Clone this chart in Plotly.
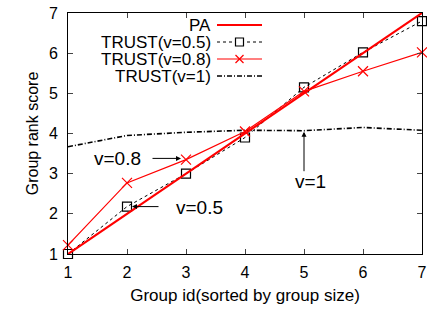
import plotly.graph_objects as go

group_ids = [1, 2, 3, 4, 5, 6, 7]
pa = [1.0, 2.0, 3.0, 4.0, 5.0, 6.0, 7.0]
trust_05 = [1.0, 2.18, 3.0, 3.9, 5.15, 6.02, 6.8]
trust_08 = [1.22, 2.77, 3.35, 4.05, 5.05, 5.55, 6.02]
trust_1 = [3.67, 3.95, 4.03, 4.08, 4.07, 4.15, 4.08]
y_ticks = [1, 2, 3, 4, 5, 6, 7]
legend_names = ["PA", "TRUST(v=0.5)", "TRUST(v=0.8)", "TRUST(v=1)"]

RED = "#ff0000"
FONT = "Liberation Sans"
W, H = 427, 314
L, R, T, B = 68, 5, 13, 60
PX0, PX1, PY0, PY1 = L, W - R, T, H - B


def px(xp):
    return (xp - PX0) / (PX1 - PX0)


def py(yp):
    return (PY1 - yp) / (PY1 - PY0)


V1_DASH = "5px,2px,1px,2px"

fig = go.Figure()
fig.add_trace(go.Scatter(x=group_ids, y=trust_1, mode="lines",
                         line=dict(color="black", width=1.6, dash=V1_DASH), name=legend_names[3]))
fig.add_trace(go.Scatter(x=group_ids, y=trust_05, mode="lines+markers",
                         line=dict(color="black", width=1, dash="dot"),
                         marker=dict(symbol="square-open", size=9, color="black", line=dict(width=1.2)),
                         name=legend_names[1], cliponaxis=False))
fig.add_trace(go.Scatter(x=group_ids, y=trust_08, mode="lines+markers",
                         line=dict(color=RED, width=1.2),
                         marker=dict(symbol="x-thin-open", size=10, color=RED, line=dict(width=1.2, color=RED)),
                         name=legend_names[2], cliponaxis=False))
fig.add_trace(go.Scatter(x=group_ids, y=pa, mode="lines",
                         line=dict(color=RED, width=2.2), name=legend_names[0], cliponaxis=False))

# manual gnuplot-style legend (text on left, sample on right)
leg_y = [25, 42, 59, 76]
annotations = []
shapes = []
for i, name in enumerate(legend_names):
    annotations.append(dict(x=px(213), y=py(leg_y[i]), xref="paper", yref="paper", text=name,
                            showarrow=False, xanchor="right", yanchor="middle",
                            font=dict(family=FONT, size=17, color="black")))
styles = [dict(color=RED, width=2.2), dict(color="black", width=1, dash="dot"),
          dict(color=RED, width=1.2), dict(color="black", width=1.6, dash=V1_DASH)]
for i in range(4):
    shapes.append(dict(type="line", xref="paper", yref="paper", x0=px(217), x1=px(262),
                       y0=py(leg_y[i]), y1=py(leg_y[i]), line=styles[i]))
shapes.append(dict(type="rect", xref="paper", yref="paper", x0=px(235.5), x1=px(243.5),
                   y0=py(leg_y[1] + 4), y1=py(leg_y[1] - 4), line=dict(color="black", width=1.2),
                   fillcolor="white"))
shapes.append(dict(type="line", xref="paper", yref="paper", x0=px(235.5), x1=px(243.5),
                   y0=py(leg_y[2] + 4), y1=py(leg_y[2] - 4), line=dict(color=RED, width=1.2)))
shapes.append(dict(type="line", xref="paper", yref="paper", x0=px(235.5), x1=px(243.5),
                   y0=py(leg_y[2] - 4), y1=py(leg_y[2] + 4), line=dict(color=RED, width=1.2)))

# arrows and labels
annotations.append(dict(x=3, y=3.38, xref="x", yref="y", ax=-35, ay=0, text="", showarrow=True,
                        arrowhead=2, arrowwidth=1, arrowcolor="black", standoff=5))
annotations.append(dict(x=2, y=2.18, xref="x", yref="y", ax=33, ay=0, text="", showarrow=True,
                        arrowhead=2, arrowwidth=1, arrowcolor="black", standoff=5))
annotations.append(dict(x=5, y=4.07, xref="x", yref="y", ax=0, ay=42, text="", showarrow=True,
                        arrowhead=2, arrowwidth=1, arrowcolor="black", standoff=1))
annotations.append(dict(x=px(92), y=py(158), xref="paper", yref="paper", text="v=0.8", showarrow=False,
                        xanchor="left", yanchor="middle", font=dict(family=FONT, size=19)))
annotations.append(dict(x=px(174), y=py(207), xref="paper", yref="paper", text="v=0.5", showarrow=False,
                        xanchor="left", yanchor="middle", font=dict(family=FONT, size=19)))
annotations.append(dict(x=px(310), y=py(181), xref="paper", yref="paper", text="v=1", showarrow=False,
                        xanchor="center", yanchor="middle", font=dict(family=FONT, size=19)))

fig.update_layout(
    width=W, height=H,
    margin=dict(l=L, r=R, t=T, b=B),
    plot_bgcolor="white", paper_bgcolor="white",
    showlegend=False,
    font=dict(family=FONT, size=16, color="black"),
    shapes=shapes,
    annotations=annotations,
    xaxis=dict(range=[1, 7], tickvals=group_ids, ticks="inside", ticklen=5, mirror="ticks",
               showline=True, linecolor="black", linewidth=1, showgrid=False, zeroline=False,
               automargin=False, ticklabelstandoff=4,
               title=dict(text="Group id(sorted by group size)", font=dict(size=17), standoff=8),
               tickfont=dict(size=16)),
    yaxis=dict(range=[1, 7], tickvals=y_ticks, ticks="inside", ticklen=5, mirror="ticks",
               showline=True, linecolor="black", linewidth=1, showgrid=False, zeroline=False,
               automargin=False, ticklabelstandoff=6,
               title=dict(text="Group rank score", font=dict(size=16), standoff=6),
               tickfont=dict(size=16)),
)

fig.write_html("out.html", config={"displayModeBar": False},
               post_script="document.body.style.margin='0';document.body.style.overflow='hidden';")
